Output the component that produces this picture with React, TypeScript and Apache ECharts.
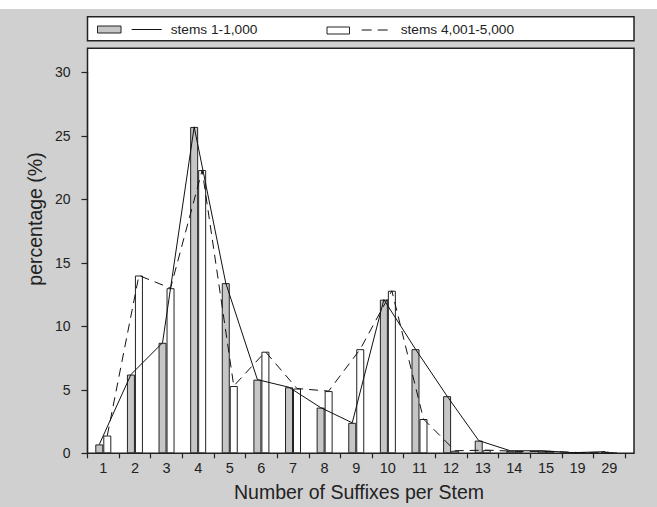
import React, { useEffect, useRef } from "react";
import * as echarts from "echarts";

const categories = ["1", "2", "3", "4", "5", "6", "7", "8", "9", "10", "11", "12", "13", "14", "15", "19", "29"];
const stems1to1000 = [0.7, 6.2, 8.7, 25.7, 13.4, 5.8, 5.2, 3.6, 2.4, 12.1, 8.2, 4.5, 1.0, 0.2, 0.2, 0.05, 0.13];
const stems4001to5000 = [1.4, 14.0, 13.0, 22.3, 5.3, 8.0, 5.1, 4.9, 8.2, 12.8, 2.7, 0.2, 0.25, 0.15, 0.15, 0.05, 0.03];
const seriesNames = ["stems 1-1,000", "stems 4,001-5,000"];
const yTicks = { min: 0, max: 30, interval: 5 };
const xTitle = "Number of Suffixes per Stem";
const yTitle = "percentage (%)";

const BAR_W = 8;
const INK = "#222";
const BG = "#d0d0d0";
const GRAY_BAR = "#c6c6c6";
const FONT = "Liberation Sans, Arial, sans-serif";

function lineSeries(vals: number[], dx: number, dash: number[] | null) {
  return {
    type: "custom",
    silent: true,
    z: 6,
    clip: false,
    data: vals.map((v, i) => [i, v]),
    renderItem: (params: any, api: any) => {
      if (params.dataIndex !== 0) return null;
      const pts = vals.map((v, i) => {
        const c = api.coord([i, v]);
        return [c[0] + dx, c[1]];
      });
      return {
        type: "polyline",
        shape: { points: pts },
        style: { stroke: "#111", lineWidth: 1, fill: "none", lineDash: dash || undefined },
      };
    },
  };
}

export default function App() {
  const ref = useRef<HTMLDivElement>(null);
  useEffect(() => {
    document.body.style.margin = "0";
    const chart = echarts.init(ref.current!, null, { renderer: "svg" });
    const option: any = {
      animation: false,
      backgroundColor: "#ffffff",
      textStyle: { fontFamily: FONT },
      grid: { left: 87.5, right: 32, top: 72.3, bottom: 53.7, containLabel: false },
      xAxis: {
        type: "category",
        data: categories,
        boundaryGap: true,
        axisLine: { show: true, lineStyle: { color: INK, width: 1.2 } },
        axisTick: { show: true, length: 5, lineStyle: { color: INK, width: 1.2 } },
        axisLabel: { color: INK, fontSize: 14.5, margin: 7, fontFamily: FONT, interval: 0 },
        splitLine: { show: false },
      },
      yAxis: {
        type: "value",
        min: yTicks.min,
        max: yTicks.max,
        interval: yTicks.interval,
        axisLine: { show: true, lineStyle: { color: INK, width: 1.2 } },
        axisTick: { show: true, length: 6, lineStyle: { color: INK, width: 1.2 } },
        axisLabel: { color: INK, fontSize: 14, margin: 17, fontFamily: FONT },
        splitLine: { show: false },
      },
      graphic: [
        { type: "rect", z: -20, silent: true, shape: { x: 0, y: 9, width: 657, height: 498 }, style: { fill: BG } },
        {
          type: "rect", z: -10, silent: true,
          shape: { x: 87.5, y: 48.3, width: 546.5, height: 405 },
          style: { fill: "#ffffff", stroke: INK, lineWidth: 1.5 },
        },
        {
          type: "rect", z: -10, silent: true,
          shape: { x: 87.5, y: 16.7, width: 546.5, height: 24 },
          style: { fill: "#ffffff", stroke: INK, lineWidth: 1.5 },
        },
        { type: "rect", silent: true, shape: { x: 97.5, y: 26, width: 23.5, height: 7 }, style: { fill: GRAY_BAR, stroke: INK, lineWidth: 1 } },
        { type: "line", silent: true, shape: { x1: 131.7, y1: 29.5, x2: 161.7, y2: 29.5 }, style: { stroke: "#111", lineWidth: 1 } },
        { type: "text", silent: true, x: 170.7, y: 29, style: { text: seriesNames[0], fill: INK, font: `13.7px ${FONT}`, verticalAlign: "middle", align: "left" } },
        { type: "rect", silent: true, shape: { x: 327, y: 27, width: 22.5, height: 7 }, style: { fill: "#ffffff", stroke: INK, lineWidth: 1 } },
        { type: "line", silent: true, shape: { x1: 361.7, y1: 30, x2: 391.7, y2: 30 }, style: { stroke: "#111", lineWidth: 1, lineDash: [10, 6] } },
        { type: "text", silent: true, x: 400.7, y: 29, style: { text: seriesNames[1], fill: INK, font: `13.7px ${FONT}`, verticalAlign: "middle", align: "left" } },
        { type: "text", silent: true, x: 359, y: 492, style: { text: xTitle, fill: INK, font: `19.5px ${FONT}`, align: "center", verticalAlign: "middle" } },
        { type: "text", silent: true, x: 35, y: 219, rotation: Math.PI / 2, style: { text: yTitle, fill: INK, font: `19.5px ${FONT}`, align: "center", verticalAlign: "middle" } },
      ],
      series: [
        {
          name: seriesNames[0],
          type: "bar",
          data: stems1to1000,
          barWidth: BAR_W,
          barGap: "0%",
          itemStyle: { color: GRAY_BAR, borderColor: INK, borderWidth: 1 },
          z: 3,
        },
        {
          name: seriesNames[1],
          type: "bar",
          data: stems4001to5000,
          barWidth: BAR_W,
          barGap: "0%",
          itemStyle: { color: "#ffffff", borderColor: INK, borderWidth: 1 },
          z: 3,
        },
        lineSeries(stems1to1000, -BAR_W / 2, null),
        lineSeries(stems4001to5000, BAR_W / 2, [9, 6]),
      ],
    };
    chart.setOption(option);
    return () => chart.dispose();
  }, []);
  return <div ref={ref} style={{ width: 657, height: 507 }} />;
}
